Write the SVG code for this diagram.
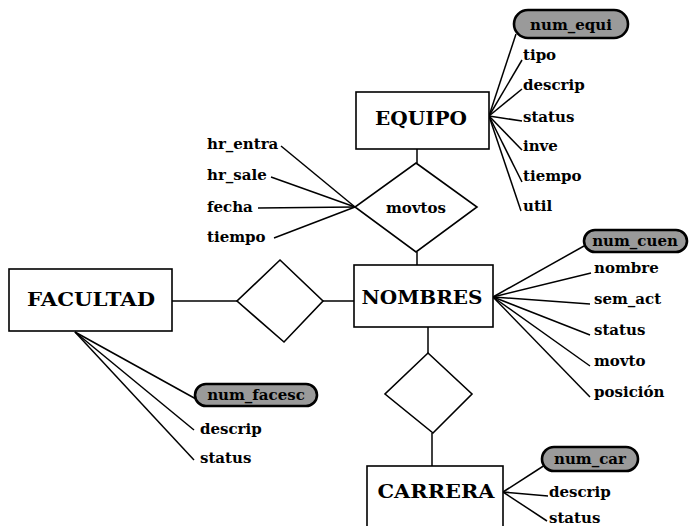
<svg xmlns="http://www.w3.org/2000/svg" width="695" height="526" viewBox="0 0 695 526">
<style>
.ent{fill:#fff;stroke:#000;stroke-width:1.6}
.rel{fill:#fff;stroke:#000;stroke-width:1.6}
.et{font-family:"DejaVu Serif","Liberation Serif",serif;font-weight:bold;font-size:18px;fill:#000;text-anchor:middle}
.at{font-family:"DejaVu Serif","Liberation Serif",serif;font-weight:bold;font-size:15px;fill:#000}
.pill{fill:#9a9a9a;stroke:#000;stroke-width:2.6}
.pt{font-family:"DejaVu Serif","Liberation Serif",serif;font-weight:bold;font-size:15px;fill:#000;text-anchor:middle}
.c line,.c polyline{stroke:#000;stroke-width:1.5;fill:none}
</style>
<g class="c" id="connectors">
<line x1="417" y1="149" x2="417" y2="163"/>
<line x1="417" y1="252" x2="417" y2="265"/>
<line x1="172" y1="301" x2="237" y2="301"/>
<line x1="323" y1="301" x2="354" y2="301"/>
<line x1="428" y1="327" x2="428" y2="353"/>
<line x1="432" y1="433" x2="432" y2="466"/>
<line x1="489" y1="116" x2="516" y2="34"/>
<line x1="489" y1="116" x2="522" y2="60"/>
<line x1="489" y1="116" x2="522" y2="89"/>
<line x1="489" y1="116" x2="522" y2="121"/>
<line x1="489" y1="116" x2="522" y2="150"/>
<line x1="489" y1="116" x2="522" y2="182"/>
<line x1="489" y1="116" x2="521" y2="211"/>
<line x1="355" y1="207" x2="281" y2="146"/>
<line x1="355" y1="207" x2="271" y2="177"/>
<line x1="355" y1="207" x2="258" y2="208"/>
<line x1="355" y1="207" x2="274" y2="238"/>
<line x1="493" y1="297" x2="584" y2="246"/>
<line x1="493" y1="297" x2="591" y2="273"/>
<line x1="493" y1="297" x2="590" y2="304"/>
<line x1="493" y1="297" x2="590" y2="335"/>
<line x1="493" y1="297" x2="590" y2="366"/>
<line x1="493" y1="297" x2="590" y2="397"/>
<line x1="75" y1="332" x2="196" y2="399"/>
<line x1="75" y1="332" x2="194" y2="430"/>
<line x1="75" y1="332" x2="194" y2="460"/>
<line x1="503" y1="492" x2="545" y2="465"/>
<line x1="503" y1="492" x2="548" y2="496"/>
<line x1="503" y1="492" x2="547" y2="521"/>
</g>
<g id="EQUIPO">
<rect class="ent" x="356" y="92" width="133" height="57"/>
<text class="et" x="421" y="125" textLength="92" lengthAdjust="spacingAndGlyphs">EQUIPO</text>
</g>
<g id="movtos">
<polygon class="rel" points="416,163 477,207 416,252 355,207"/>
<text class="at" x="416" y="213" text-anchor="middle" font-size="16">movtos</text>
</g>
<g id="NOMBRES">
<rect class="ent" x="354" y="265" width="139" height="62"/>
<text class="et" x="422" y="304" textLength="121" lengthAdjust="spacingAndGlyphs">NOMBRES</text>
</g>
<g id="rel_facultad">
<polygon class="rel" points="280,260 323,301 284,342 237,301"/>
</g>
<g id="FACULTAD">
<rect class="ent" x="9" y="269" width="163" height="62"/>
<text class="et" x="91" y="306" textLength="128" lengthAdjust="spacingAndGlyphs">FACULTAD</text>
</g>
<g id="rel_carrera">
<polygon class="rel" points="428,353 472,394 433,433 385,394"/>
</g>
<g id="CARRERA">
<rect class="ent" x="367" y="466" width="136" height="70"/>
<text class="et" x="436" y="498" textLength="117" lengthAdjust="spacingAndGlyphs">CARRERA</text>
</g>
<g id="attrs_equipo">
<rect class="pill" x="514" y="10" width="114" height="28" rx="14"/>
<text class="pt" x="571" y="30">num_equi</text>
<text class="at" x="523" y="60">tipo</text>
<text class="at" x="523" y="90">descrip</text>
<text class="at" x="523" y="122">status</text>
<text class="at" x="523" y="151">inve</text>
<text class="at" x="523" y="181">tiempo</text>
<text class="at" x="523" y="211">util</text>
</g>
<g id="attrs_movtos">
<text class="at" x="207" y="149">hr_entra</text>
<text class="at" x="207" y="180">hr_sale</text>
<text class="at" x="207" y="212">fecha</text>
<text class="at" x="207" y="242">tiempo</text>
</g>
<g id="attrs_nombres">
<rect class="pill" x="584" y="230" width="103" height="22" rx="11"/>
<text class="pt" x="635" y="246">num_cuen</text>
<text class="at" x="594" y="273">nombre</text>
<text class="at" x="594" y="304">sem_act</text>
<text class="at" x="594" y="335">status</text>
<text class="at" x="594" y="366">movto</text>
<text class="at" x="594" y="397">posición</text>
</g>
<g id="attrs_facultad">
<rect class="pill" x="195" y="384" width="122" height="22" rx="11"/>
<text class="pt" x="256" y="400">num_facesc</text>
<text class="at" x="200" y="434">descrip</text>
<text class="at" x="200" y="463">status</text>
</g>
<g id="attrs_carrera">
<rect class="pill" x="542" y="447" width="96" height="24" rx="12"/>
<text class="pt" x="590" y="464">num_car</text>
<text class="at" x="549" y="497">descrip</text>
<text class="at" x="549" y="523">status</text>
</g>
</svg>
